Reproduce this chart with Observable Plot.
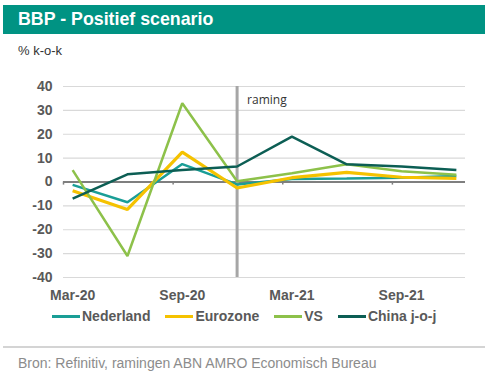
<!DOCTYPE html>
<html>
<head>
<meta charset="utf-8">
<script src="https://cdn.jsdelivr.net/npm/d3@7"></script>
<script src="https://cdn.jsdelivr.net/npm/@observablehq/plot@0.6"></script>
<style>
  html, body { margin: 0; padding: 0; background: #fff; }
  body { width: 495px; height: 379px; position: relative; overflow: hidden; font-family: "Liberation Sans", Arial, sans-serif; }
  #titlebar { position: absolute; left: 3px; top: 5px; width: 482px; height: 29px; background: #009383; }
  #title { position: absolute; left: 15px; top: 0; line-height: 29px; color: #fff; font-weight: bold; font-size: 17.8px; }
  #unit { position: absolute; left: 18px; top: 43px; font-size: 13px; color: #333; }
  #chart { position: absolute; left: 0; top: 60px; }
  #legend { position: absolute; left: 52px; top: 308px; display: flex; align-items: center; font-size: 14px; font-weight: bold; color: #595959; }
  .item { display: flex; align-items: center; margin-right: 15px; }
  .sw { width: 28px; height: 3px; margin-right: 2px; }
  #sep { position: absolute; left: 3px; top: 346px; width: 482px; height: 1.5px; background: #d4d4d4; }
  #source { position: absolute; left: 18px; top: 355px; font-size: 14px; color: #8c8c8c; }
</style>
</head>
<body>
<div id="titlebar"><div id="title">BBP - Positief scenario</div></div>
<div id="unit">% k-o-k</div>
<div id="chart"></div>
<div id="legend"></div>
<div id="sep"></div>
<div id="source">Bron: Refinitiv, ramingen ABN AMRO Economisch Bureau</div>
<script>
// ---- data ----
const quarters = ["Mar-20","Jun-20","Sep-20","Dec-20","Mar-21","Jun-21","Sep-21","Dec-21"];
const nederland = [-1.2, -8.5, 7.5, -1.0, 1.3, 1.5, 1.8, 2.5];
const eurozone  = [-3.7, -11.5, 12.5, -2.5, 1.8, 4.0, 2.0, 1.5];
const vs        = [5.0, -31.0, 33.0, 0.3, 3.7, 7.4, 4.5, 3.0];
const china     = [-7.0, 3.2, 5.0, 6.5, 19.0, 7.4, 6.5, 5.0];
const seriesNames  = ["Nederland", "Eurozone", "VS", "China j-o-j"];
const seriesColors = ["#1a9e96", "#f5c200", "#8dc14a", "#0c5e54"];
const seriesWidths = [2.5, 3.2, 2.5, 2.5];
const xTickLabels = ["Mar-20","Sep-20","Mar-21","Sep-21"];
const yTicks = [-40,-30,-20,-10,0,10,20,30,40];
const forecastStart = "Dec-20";
const forecastLabel = "raming";

// month index from label (Mar-20 = 0)
const mon = ["Jan","Feb","Mar","Apr","May","Jun","Jul","Aug","Sep","Oct","Nov","Dec"];
const mIdx = s => { const [m, y] = s.split("-"); return (+y - 20) * 12 + mon.indexOf(m) - 2; };

const valuesBySeries = [nederland, eurozone, vs, china];
const rows = [];
seriesNames.forEach((name, si) => {
  quarters.forEach((q, i) => rows.push({series: name, m: mIdx(q), v: valuesBySeries[si][i]}));
});
const xDomainMonths = [mIdx("Mar-20") - 0.5, mIdx("Dec-21") + 0.5];
const tickMarks = xTickLabels.map(l => mIdx(l) - 0.5);
const labelOf = new Map(xTickLabels.map(l => [mIdx(l), l]));

const marks = [
  Plot.gridY(yTicks, {stroke: "#d9d9d9", strokeOpacity: 1, strokeWidth: 1.2}),
  Plot.ruleY([0], {stroke: "#7f7f7f", strokeWidth: 2}),
  Plot.ruleX(tickMarks, {y1: 0, y2: -1.3, stroke: "#7f7f7f", strokeWidth: 1.5}),
  Plot.ruleX([mIdx(forecastStart)], {stroke: "#a6a6a6", strokeWidth: 3}),
  Plot.text([forecastLabel], {x: mIdx(forecastStart), frameAnchor: "top", dx: 10, dy: 14, textAnchor: "start", lineAnchor: "middle", text: d => d, fontSize: 12, fill: "#333", fontFamily: "Open Sans"}),
  ...seriesNames.map((name, si) => Plot.line(rows.filter(r => r.series === name), {
    x: "m", y: "v", stroke: seriesColors[si], strokeWidth: seriesWidths[si], strokeLinejoin: "miter", strokeLinecap: "butt"
  })),
  Plot.axisY({ticks: yTicks, tickSize: 0, tickPadding: 11, tickFormat: d => String(d), fontSize: 14, fontWeight: "bold", fill: "#595959", label: null}),
  Plot.axisX({ticks: xTickLabels.map(mIdx), tickSize: 0, tickPadding: 13, tickFormat: d => labelOf.get(d), fontSize: 14, fontWeight: "bold", fill: "#595959", label: null})
];

const chart = Plot.plot({
  width: 495,
  height: 250,
  marginLeft: 63,
  marginRight: 30,
  marginTop: 26,
  marginBottom: 33,
  style: {fontFamily: "Liberation Sans, Arial, sans-serif", background: "transparent", overflow: "visible"},
  x: {type: "linear", domain: xDomainMonths},
  y: {domain: [-40, 40]},
  marks
});
document.getElementById("chart").appendChild(chart);

const legend = document.getElementById("legend");
seriesNames.forEach((name, i) => {
  const it = document.createElement("div");
  it.className = "item";
  const sw = document.createElement("div");
  sw.className = "sw";
  sw.style.background = seriesColors[i];
  const t = document.createElement("span");
  t.textContent = name;
  it.appendChild(sw); it.appendChild(t);
  legend.appendChild(it);
});
</script>
</body>
</html>
